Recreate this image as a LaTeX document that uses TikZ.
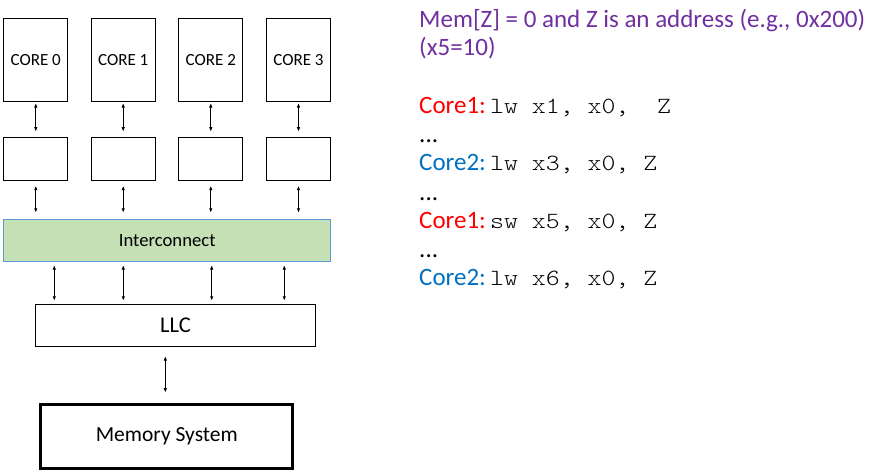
\documentclass[tikz,border=0pt]{standalone}
\usepackage{fontspec}
\setmainfont{Carlito}
\setmonofont[FakeStretch=1.143]{Latin Modern Mono Light}
\usetikzlibrary{arrows.meta}
\definecolor{icgreen}{HTML}{C5E0B4}
\definecolor{icblue}{HTML}{5B9BD5}
\definecolor{mempurple}{HTML}{7030A0}
\definecolor{cored}{HTML}{FF0000}
\definecolor{coblue}{HTML}{0070C0}
\begin{document}
\begin{tikzpicture}[x=1pt,y=-1pt,
  box/.style={draw, line width=1pt, inner sep=0pt, minimum width=64pt},
  conn/.style={{Latex[length=4.5pt,width=3.5pt]}-{Latex[length=4.5pt,width=3.5pt]}, line width=0.9pt},
  lbl/.style={anchor=base west, inner sep=0pt},
  big/.style={font=\fontsize{25}{29}\selectfont},
  code/.style={font=\fontsize{23.2}{29}\selectfont\ttfamily}]
\useasboundingbox (0,0) rectangle (873,472);

% cores and private caches
\foreach \i/\x in {0/35.8,1/123.2,2/210.8,3/298.5}{
  \node[box, minimum height=83pt, font=\fontsize{17}{20}\selectfont] (core\i) at (\x,60.3) {CORE \i};
  \node[box, minimum height=42.4pt] (buf\i) at (\x,159) {};
}
\node[draw=icblue, fill=icgreen, line width=1pt, inner sep=0pt,
      minimum width=326.7pt, minimum height=42.3pt, font=\fontsize{18.7}{22}\selectfont]
      (ic) at (167.2,240.7) {Interconnect};
\foreach \i in {0,1,2,3}{
  \draw[conn, shorten <=0.7pt, shorten >=5.6pt] (core\i) -- (buf\i);
  \draw[conn, shorten <=5pt, shorten >=6.3pt] (buf\i.south) -- (ic.north -| buf\i.south);
}

\node[box, minimum width=280pt, minimum height=42.3pt, font=\fontsize{22.5}{26}\selectfont]
      (llc) at (175.5,325.7) {LLC};
\node[draw, line width=3pt, inner sep=0pt, minimum width=252pt, minimum height=64.3pt,
      font=\fontsize{21.5}{26}\selectfont] (mem) at (166.8,436.3) {Memory System};

\foreach \j/\x in {1/54.3,2/123.3,3/211.7,4/284.3}{
  \coordinate (p\j) at (\x,280);
  \draw[conn, shorten <=2.7pt, shorten >=3.3pt] (ic.south -| p\j) -- (llc.north -| p\j);
}
\coordinate (pm) at (165.3,375);
\draw[conn, shorten <=8.7pt, shorten >=10pt] (llc.south -| pm) -- (mem.north -| pm);

% text on the right
\node[lbl, big, text=mempurple] (t1) at (419,27.7) {Mem[Z] = 0 and Z is an address (e.g., 0x200)};
\node[lbl, big, text=mempurple] (t2) at (419,55.7) {(x5=10)};

\node[lbl, big, text=cored] (c1) at (419,113) {Core1:};
\node[lbl, code] (i1) at (490,113) {lw x1, x0,\ \ Z};
\node[lbl, big] (d1) at (419,142.5) {...};
\node[lbl, big, text=coblue] (c2) at (419,170.7) {Core2:};
\node[lbl, code] (i2) at (490,170.7) {lw x3, x0, Z};
\node[lbl, big] (d2) at (419,200) {...};
\node[lbl, big, text=cored] (c3) at (419,228.3) {Core1:};
\node[lbl, code] (i3) at (490,228.3) {sw x5, x0, Z};
\node[lbl, big] (d3) at (419,257.5) {...};
\node[lbl, big, text=coblue] (c4) at (419,285) {Core2:};
\node[lbl, code] (i4) at (490,285) {lw x6, x0, Z};
\end{tikzpicture}
\end{document}
